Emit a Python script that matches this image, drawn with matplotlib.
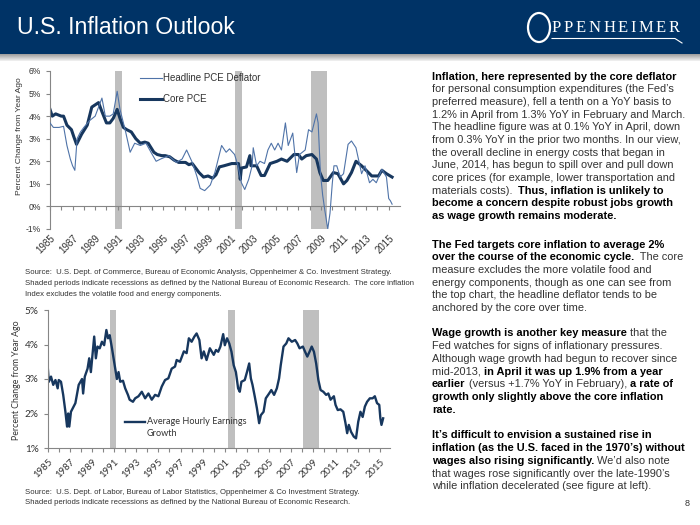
import numpy as np
import matplotlib
matplotlib.use("Agg")
import matplotlib.pyplot as plt
from matplotlib.colors import LinearSegmentedColormap
from matplotlib.font_manager import FontProperties
from matplotlib.patches import Ellipse

# ---------------------------------------------------------------------------
# Data (YoY % change)
# ---------------------------------------------------------------------------
core_t = [1985.0, 1985.2, 1985.5, 1986.0, 1986.2, 1986.5, 1986.9, 1987.1, 1987.35, 1987.5,
          1987.8, 1988.3, 1988.7, 1989.0, 1989.3, 1989.6, 1990.0, 1990.3, 1990.6, 1990.95,
          1991.2, 1991.5, 1991.8, 1992.2, 1992.6, 1993.0, 1993.4, 1993.7, 1994.2, 1994.5,
          1994.9, 1995.2, 1995.6, 1996.0, 1996.4, 1997.0, 1997.3, 1997.6, 1998.2, 1998.6,
          1999.0, 1999.4, 1999.7, 2000.0, 2000.4, 2001.1, 2001.7, 2001.85, 2001.95, 2002.4,
          2002.7, 2002.8, 2003.3, 2003.7, 2004.0, 2004.5, 2005.1, 2005.5, 2006.0, 2006.6,
          2007.0, 2007.3, 2007.7, 2008.2, 2008.6, 2008.9, 2009.2, 2009.6, 2010.1, 2010.5,
          2011.0, 2011.3, 2011.7, 2012.1, 2012.6, 2013.0, 2013.5, 2014.1, 2014.4, 2014.8,
          2015.3]
core_v = [4.3, 4.0, 4.1, 4.0, 4.0, 3.6, 3.4, 3.1, 2.75, 2.9,
          3.2, 3.6, 4.4, 4.5, 4.6, 4.2, 3.7, 3.7, 3.9, 4.3,
          3.9, 3.5, 3.4, 3.3, 3.0, 2.8, 2.85, 2.8, 2.4, 2.3,
          2.25, 2.25, 2.2, 2.05, 1.95, 1.95, 1.85, 1.9, 1.5, 1.3,
          1.35, 1.25, 1.4, 1.75, 1.8, 1.9, 1.9, 1.2, 1.7, 1.75,
          2.25, 1.8, 1.8, 1.37, 1.37, 1.9, 2.0, 2.1, 2.0, 2.3,
          2.3, 2.1, 2.25, 2.3, 2.1, 1.5, 1.15, 1.15, 1.5, 1.45,
          1.0, 1.15, 1.5, 2.0, 1.8, 1.6, 1.35, 1.35, 1.6, 1.45,
          1.3]

head_t = [1985.0, 1985.3, 1985.8, 1986.2, 1986.5, 1986.8, 1987.0, 1987.2, 1987.4, 1987.7,
          1988.0, 1988.5, 1989.0, 1989.3, 1989.6, 1989.9, 1990.3, 1990.6, 1990.95, 1991.2,
          1991.7, 1992.1, 1992.5, 1993.0, 1993.5, 1994.0, 1994.4, 1994.8, 1995.5, 1996.2,
          1996.7, 1997.1, 1997.6, 1998.0, 1998.3, 1998.7, 1999.2, 1999.6, 2000.0, 2000.2,
          2000.6, 2000.9, 2001.35, 2001.65, 2001.95, 2002.25, 2002.6, 2002.9, 2003.0, 2003.3,
          2003.6, 2004.0, 2004.3, 2004.6, 2004.9, 2005.2, 2005.5, 2005.85, 2006.1, 2006.5,
          2006.85, 2007.1, 2007.6, 2007.9, 2008.2, 2008.6, 2008.75, 2008.95, 2009.15, 2009.35,
          2009.6, 2009.8, 2010.0, 2010.15, 2010.4, 2010.7, 2011.0, 2011.4, 2011.7, 2012.1,
          2012.6, 2012.9, 2013.3, 2013.6, 2013.9, 2014.4, 2014.8, 2015.0, 2015.15, 2015.3]
head_v = [3.7, 3.5, 3.5, 3.55, 2.7, 2.1, 1.8, 1.6, 3.0, 3.3,
          3.5, 3.8, 4.0, 4.4, 4.8, 4.0, 4.0, 4.1, 5.1, 4.3,
          3.3, 2.4, 2.8, 2.7, 2.8, 2.35, 2.0, 2.1, 2.25, 1.95,
          2.1, 2.5, 1.95, 1.35, 0.8, 0.7, 0.95, 1.5, 2.3, 2.7,
          2.4, 2.55, 2.3, 1.8, 1.05, 0.75, 1.2, 1.8, 2.6, 1.8,
          2.0, 1.9, 2.5, 2.8, 2.5, 2.8, 2.5, 3.7, 2.7, 3.25,
          1.5, 2.3, 2.5, 3.4, 3.3, 4.1, 3.7, 1.5, 0.5, -0.2,
          -1.0, -0.3, 1.0, 1.8, 1.8, 1.3, 1.45, 2.75, 2.9, 2.6,
          1.45, 1.8, 1.05, 1.2, 1.05, 1.65, 1.3, 0.35, 0.25, 0.1]

ahe_t = [1985.0, 1985.1, 1985.3, 1985.5, 1985.7, 1985.9, 1986.0, 1986.2, 1986.4, 1986.6,
         1986.75, 1986.85, 1986.95, 1987.1, 1987.5, 1987.8, 1988.1, 1988.2, 1988.35, 1988.6,
         1988.75, 1988.9, 1989.05, 1989.2, 1989.35, 1989.5, 1989.7, 1989.9, 1990.1, 1990.3,
         1990.45, 1990.6, 1990.8, 1991.1, 1991.25, 1991.4, 1991.55, 1991.8, 1992.0, 1992.25,
         1992.4, 1992.7, 1992.9, 1993.2, 1993.5, 1993.8, 1994.1, 1994.4, 1994.7, 1995.0,
         1995.3, 1995.6, 1995.9, 1996.2, 1996.5, 1996.65, 1996.95, 1997.3, 1997.55, 1997.75,
         1998.0, 1998.25, 1998.45, 1998.7, 1998.9, 1999.1, 1999.35, 1999.65, 2000.0, 2000.2,
         2000.4, 2000.6, 2000.85, 2001.0, 2001.2, 2001.4, 2001.6, 2001.8, 2002.0, 2002.2,
         2002.35, 2002.5, 2002.8, 2003.0, 2003.2, 2003.35, 2003.5, 2003.7, 2003.9, 2004.1,
         2004.25, 2004.5, 2004.7, 2005.0, 2005.2, 2005.45, 2005.7, 2005.9, 2006.05, 2006.3,
         2006.55, 2006.75, 2007.05, 2007.35, 2007.55, 2007.75, 2008.05, 2008.25, 2008.45, 2008.65,
         2008.85, 2009.05, 2009.25, 2009.45, 2009.65, 2009.9, 2010.15, 2010.35, 2010.55, 2010.85,
         2011.0, 2011.2, 2011.45, 2011.7, 2011.9, 2012.05, 2012.2, 2012.4, 2012.65, 2012.85,
         2013.05, 2013.25, 2013.45, 2013.65, 2013.85, 2014.1, 2014.35, 2014.55, 2014.75, 2014.95,
         2015.05, 2015.15, 2015.3]
ahe_v = [3.36, 2.92, 3.07, 2.83, 2.97, 2.73, 2.97, 2.92, 2.54, 2.05,
         1.62, 2.0, 1.62, 2.05, 2.3, 2.83, 3.0, 2.58, 3.07, 3.3,
         3.6, 3.2, 3.7, 4.23, 3.6, 3.94, 3.89, 4.08, 3.98, 4.42,
         4.18, 4.27, 3.9, 3.3, 3.0, 3.2, 2.92, 2.95, 2.73, 2.54,
         2.4, 2.34, 2.44, 2.5, 2.63, 2.44, 2.58, 2.4, 2.54, 2.5,
         2.78, 2.97, 3.02, 3.3, 3.36, 3.55, 3.5, 3.8, 3.75, 4.18,
         4.08, 4.23, 4.32, 4.13, 3.6, 3.8, 3.55, 3.89, 3.7, 3.84,
         3.79, 3.94, 4.3, 3.98, 4.18, 4.03, 3.79, 3.4, 3.2, 2.73,
         2.63, 2.92, 2.97, 3.2, 3.45, 3.02, 2.83, 2.5, 2.15, 1.72,
         1.95, 2.05, 2.44, 2.58, 2.68, 2.54, 2.73, 3.02, 3.4, 3.94,
         4.03, 4.18, 4.08, 4.13, 4.03, 3.89, 3.94, 3.79, 3.65, 3.79,
         3.94, 3.79, 3.45, 2.97, 2.68, 2.63, 2.54, 2.58, 2.4, 2.5,
         2.25, 2.1, 2.12, 2.05, 1.72, 1.43, 1.67, 1.47, 1.33, 1.28,
         1.76, 2.05, 1.9, 2.2, 2.34, 2.44, 2.44, 2.5, 2.3, 2.25,
         1.86, 1.67, 1.86]

# recession bands (start, end) as placed on each chart
rec_top = [(1990.75, 1991.4), (2001.4, 2002.0), (2008.1, 2009.5)]
rec_bot = [(1990.6, 1991.2), (2001.3, 2001.9), (2008.1, 2009.5)]

year_ticks = list(range(1985, 2016))
year_labels = list(range(1985, 2016, 2))

# ---------------------------------------------------------------------------
SANS = ["Liberation Sans", "DejaVu Sans"]
SERIF = ["Liberation Serif", "DejaVu Serif"]
CAL = ["Lato", "DejaVu Sans"]
NAVY = "#17375e"
THIN = "#4f73a8"
SHADE = "#bfbfbf"
AX_C = "#868686"
TXT = "#333333"

plt.rcParams["font.family"] = SANS

W, H = 700, 525
fig = plt.figure(figsize=(7, 5.25), dpi=100)
bg = fig.add_axes([0, 0, 1, 1], zorder=0)
bg.axis("off")
renderer = fig.canvas.get_renderer()


def run_width(txt, fp):
    w1 = renderer.get_text_width_height_descent(txt + "|", fp, ismath=False)[0]
    w0 = renderer.get_text_width_height_descent("|", fp, ismath=False)[0]
    return w1 - w0


# header
bg.add_patch(plt.Rectangle((0, 0), W, 54, color="#003366", lw=0))
strip = LinearSegmentedColormap.from_list("strip", ["#9c9c9c", "#c8c8c8", "#f2f2f2"])
bg.imshow(np.linspace(0, 1, 30).reshape(-1, 1), cmap=strip, extent=(0, W, 61, 54), aspect="auto")
bg.set_xlim(0, W)
bg.set_ylim(H, 0)
px = bg.transData

bg.text(17, 28, "U.S. Inflation Outlook", color="white", fontsize=16.7, va="center")

# logo: open ring + spaced serif lettering with underline
bg.add_patch(Ellipse((539, 27.5), 22, 29, fill=False, ec="white", lw=1.6))
logo_fp = FontProperties(family=SERIF, size=12)
lx = 552
for ch in "PPENHEIMER":
    bg.text(lx, 32, ch, color="white", fontproperties=logo_fp, va="baseline")
    lx += run_width(ch, logo_fp) + 2.6
bg.plot([552, 675, 682], [38.5, 38.5, 43], color="white", lw=0.8)


def style_axes(ax, family, size):
    ax.patch.set_alpha(0)
    for s in ("top", "right"):
        ax.spines[s].set_visible(False)
    for s in ("left", "bottom"):
        ax.spines[s].set_color(AX_C)
        ax.spines[s].set_linewidth(0.8)
    ax.tick_params(colors=AX_C, labelcolor=TXT, length=3, width=0.8, direction="out")
    for lab in ax.get_yticklabels():
        lab.set_family(family)
        lab.set_fontsize(size)


# ---------------------------------------------------------------------------
# Top chart: PCE deflator
# ---------------------------------------------------------------------------
ax1 = fig.add_axes([50 / W, 1 - 229 / H, 350 / W, 158 / H], zorder=1)
for a, b in rec_top:
    ax1.axvspan(a, b, color=SHADE, lw=0, zorder=0)
ax1.plot(head_t, head_v, color=THIN, lw=0.8, zorder=3)
ax1.plot(core_t, core_v, color=NAVY, lw=2.2, zorder=2)
ax1.set_xlim(1985, 2016)
ax1.set_ylim(-1, 6)
ax1.set_yticks(range(-1, 7))
ax1.set_yticklabels([f"{v}%" for v in range(-1, 7)])
ax1.spines["bottom"].set_position(("data", 0))
ax1.set_xticks(year_ticks)
ax1.set_xticklabels([])
style_axes(ax1, SANS, 6.2)
sec1 = ax1.secondary_xaxis(0.0)
sec1.set_xticks(year_labels)
sec1.set_xticklabels([str(y) for y in year_labels], rotation=45, ha="right",
                     rotation_mode="anchor", fontsize=7, color=TXT)
sec1.tick_params(length=0, pad=3)
sec1.spines["bottom"].set_visible(False)

ax1.plot([140, 162], [78, 78], color=THIN, lw=0.8, transform=px, clip_on=False)
ax1.plot([140, 162], [99, 99], color=NAVY, lw=2.2, transform=px, clip_on=False)
ax1.text(163, 78, "Headline PCE Deflator", transform=px, va="center", fontsize=7, color=TXT)
ax1.text(163, 99, "Core PCE", transform=px, va="center", fontsize=7, color=TXT)
bg.text(20, 136, "Percent Change from Year Ago", rotation=90, ha="center", va="center",
        fontsize=6.1, color=TXT)

cap1 = ["Source:  U.S. Dept. of Commerce, Bureau of Economic Analysis, Oppenheimer & Co. Investment Strategy.",
        "Shaded periods indicate recessions as defined by the National Bureau of Economic Research.  The core inflation",
        "Index excludes the volatile food and energy components."]
for i, line in enumerate(cap1):
    bg.text(25, 273 + 10.5 * i, line, fontsize=5.58, va="center", color=TXT)

# ---------------------------------------------------------------------------
# Bottom chart: average hourly earnings
# ---------------------------------------------------------------------------
ax2 = fig.add_axes([47.7 / W, 1 - 448 / H, 342.3 / W, 138 / H], zorder=1)
for a, b in rec_bot:
    ax2.axvspan(a, b, color=SHADE, lw=0, zorder=0)
ax2.plot(ahe_t, ahe_v, color=NAVY, lw=1.7, zorder=2)
ax2.set_xlim(1985, 2015.92)
ax2.set_ylim(1, 5)
ax2.set_yticks(range(1, 6))
ax2.set_yticklabels([f"{v}%" for v in range(1, 6)])
ax2.set_xticks(year_ticks)
ax2.set_xticklabels([str(y) if y % 2 == 1 else "" for y in year_ticks], rotation=45,
                    ha="right", rotation_mode="anchor", fontsize=6.9, family=CAL)
style_axes(ax2, CAL, 7.2)

ax2.plot([125, 145], [421.5, 421.5], color=NAVY, lw=1.7, transform=px, clip_on=False)
ax2.text(147, 421.5, "Average Hourly Earnings", transform=px, va="center", fontsize=6.6,
         family=CAL, color=TXT)
ax2.text(147, 433, "Growth", transform=px, va="center", fontsize=6.6, family=CAL, color=TXT)
bg.text(17, 380, "Percent Change from Year Ago", rotation=90, ha="center", va="center",
        fontsize=6.3, family=CAL, color=TXT)

cap2 = ["Source:  U.S. Dept. of Labor, Bureau of Labor Statistics, Oppenheimer & Co Investment Strategy.",
        "Shaded periods indicate recessions as defined by the National Bureau of Economic Research."]
for i, line in enumerate(cap2):
    bg.text(25, 492 + 10 * i, line, fontsize=5.58, va="center", color=TXT)

# ---------------------------------------------------------------------------
# Commentary column (mixed bold / regular runs)
# ---------------------------------------------------------------------------
B, R = True, False
para1 = [
    [("Inflation, here represented by the core deflator", B)],
    [("for personal consumption expenditures (the Fed\u2019s", R)],
    [("preferred measure), fell a tenth on a YoY basis to", R)],
    [("1.2% in April from 1.3% YoY in February and March.", R)],
    [("The headline figure was at 0.1% YoY in April, down", R)],
    [("from 0.3% YoY in the prior two months. In our view,", R)],
    [("the overall decline in energy costs that began in", R)],
    [("June, 2014, has begun to spill over and pull down", R)],
    [("core prices (for example, lower transportation and", R)],
    [("materials costs).  ", R), ("Thus, inflation is unlikely to", B)],
    [("become a concern despite robust jobs growth", B)],
    [("as wage growth remains moderate.", B)],
]
para2 = [
    [("The Fed targets core inflation to average 2%", B)],
    [("over the course of the economic cycle.", B), ("  The core", R)],
    [("measure excludes the more volatile food and", R)],
    [("energy components, though as one can see from", R)],
    [("the top chart, the headline deflator tends to be", R)],
    [("anchored by the core over time.", R)],
]
para3 = [
    [("Wage growth is another key measure", B), (" that the", R)],
    [("Fed watches for signs of inflationary pressures.", R)],
    [("Although wage growth had begun to recover since", R)],
    [("mid-2013, ", R), ("in April it was up 1.9% from a year", B)],
    [("earlier", B), (" (versus +1.7% YoY in February), ", R), ("a rate of", B)],
    [("growth only slightly above the core inflation", B)],
    [("rate.", B)],
]
para4 = [
    [("It\u2019s difficult to envision a sustained rise in", B)],
    [("inflation (as the U.S. faced in the 1970\u2019s) without", B)],
    [("wages also rising significantly.", B), (" We\u2019d also note", R)],
    [("that wages rose significantly over the late-1990\u2019s", R)],
    [("while inflation decelerated (see figure at left).", R)],
]

BODY = 7.9
STEP = 12.7
fp_b = FontProperties(family=SANS, size=BODY, weight="bold")
fp_r = FontProperties(family=SANS, size=BODY)

for para, y0 in ((para1, 76), (para2, 244), (para3, 333), (para4, 435)):
    for i, line in enumerate(para):
        x = 432
        y = y0 + STEP * i + 3.5
        for txt, bold in line:
            fp = fp_b if bold else fp_r
            bg.text(x, y, txt, fontproperties=fp, va="baseline",
                    color="black" if bold else TXT)
            x += run_width(txt, fp)

bg.text(690, 503, "8", fontsize=6.5, ha="right", va="center", color=TXT)

fig.savefig("out.png", dpi=100)
